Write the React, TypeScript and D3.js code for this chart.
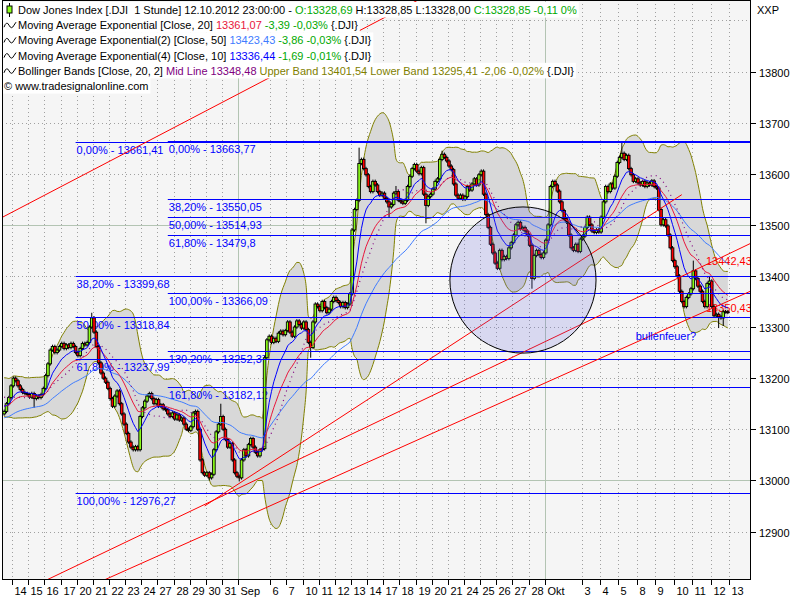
'use client'
import React, { useEffect, useRef } from 'react';
import * as d3 from 'd3';

// trading days shown on the time axis ('' = day without a label)
const dayLabels = ['13', '14', '15', '16', '17', '20', '21', '22', '23', '24', '27', '28', '29', '30', '31',
  'Sep', '', '6', '7', '10', '11', '12', '13', '14', '17', '18', '19', '20', '21', '24', '25', '26', '27', '28',
  'Okt', '', '3', '4', '5', '8', '9', '10', '11', '12'];
const nextDayLabel = '13';

// hourly closes per trading day (first day only partly visible)
const hourlyCloses: number[][] = [
  [13135, 13150, 13162, 13185],
  [13200, 13195, 13185, 13178, 13172, 13170, 13168],
  [13163, 13170, 13160, 13165, 13162, 13168, 13180],
  [13205, 13228, 13255, 13262, 13250, 13255, 13262],
  [13268, 13258, 13265, 13260, 13268, 13262, 13250],
  [13244, 13258, 13268, 13265, 13270, 13300, 13318],
  [13290, 13262, 13230, 13210, 13200, 13192, 13180],
  [13160, 13145, 13165, 13175, 13150, 13130, 13110],
  [13092, 13075, 13065, 13060, 13066, 13060, 13125],
  [13142, 13155, 13165, 13170, 13160, 13150, 13158],
  [13145, 13148, 13140, 13138, 13130, 13125, 13132],
  [13120, 13128, 13118, 13122, 13110, 13100, 13098],
  [13105, 13132, 13135, 13100, 13040, 13015, 13010],
  [13015, 13005, 13012, 13060, 13095, 13110, 13125],
  [13100, 13080, 13065, 13072, 13040, 13015, 13008],
  [13005, 13040, 13060, 13048, 13070, 13082, 13065],
  [13055, 13048, 13060, 13062, 13240, 13275, 13282],
  [13270, 13278, 13272, 13288, 13292, 13285, 13293],
  [13310, 13290, 13282, 13300, 13312, 13305, 13298],
  [13310, 13295, 13270, 13260, 13310, 13345, 13340],
  [13332, 13350, 13338, 13328, 13335, 13350, 13358],
  [13352, 13348, 13340, 13348, 13338, 13345, 13365],
  [13490, 13530, 13548, 13620, 13628, 13610, 13598],
  [13575, 13565, 13585, 13578, 13565, 13558, 13562],
  [13552, 13545, 13535, 13540, 13562, 13565, 13548],
  [13545, 13542, 13548, 13575, 13595, 13610, 13618],
  [13605, 13600, 13612, 13560, 13538, 13555, 13560],
  [13570, 13585, 13590, 13628, 13638, 13632, 13625],
  [13615, 13608, 13580, 13558, 13552, 13558, 13550],
  [13555, 13575, 13568, 13580, 13590, 13578, 13598],
  [13605, 13560, 13520, 13495, 13462, 13445, 13425],
  [13415, 13450, 13432, 13438, 13434, 13455, 13465],
  [13480, 13500, 13505, 13492, 13495, 13488, 13480],
  [13460, 13395, 13440, 13450, 13442, 13436, 13445],
  [13470, 13500, 13575, 13585, 13578, 13566, 13545, 13528],
  [13512, 13505, 13480, 13455, 13450, 13462, 13448, 13472],
  [13478, 13495, 13515, 13500, 13488, 13485, 13490, 13486],
  [13515, 13545, 13575, 13565, 13580, 13572, 13595, 13622],
  [13632, 13640, 13628, 13636, 13610, 13598, 13585, 13590],
  [13582, 13578, 13585, 13575, 13582, 13578, 13586, 13575],
  [13572, 13530, 13500, 13510, 13498, 13480, 13455, 13430],
  [13418, 13400, 13370, 13350, 13340, 13358, 13365, 13375],
  [13410, 13395, 13380, 13370, 13350, 13340, 13385, 13390],
  [13340, 13322, 13325, 13320, 13318, 13330, 13330, 13328.85],
];

// bars before the visible range, only used to warm up the indicators
const priorCloses = [13060, 13075, 13090, 13085, 13100, 13110, 13105, 13120, 13130, 13140,
  13150, 13165, 13175, 13170, 13185, 13195, 13190, 13180, 13175, 13185,
  13170, 13165, 13160, 13150, 13155, 13145, 13150, 13140, 13138, 13130];

// long wicks [bar, price]
const highSpikes: [number, number][] = [[38, 13328], [94, 13150], [154, 13651], [170, 13576],
  [190, 13645], [268, 13661], [299, 13430], [306, 13400]];
const lowSpikes: [number, number][] = [[13, 13142], [89, 13000], [102, 12998], [133, 13240],
  [167, 13515], [183, 13503], [229, 13375], [310, 13298], [312, 13302]];

const priceTicks = [12900, 13000, 13100, 13200, 13300, 13400, 13500, 13600, 13700, 13800];

// fibonacci sets: anchor bar + levels
const fibA = { bar: 31, levels: [['0,00%', 13661.41], ['38,20%', 13399.68], ['50,00%', 13318.84],
  ['61,80%', 13237.99], ['100,00%', 12976.27]] as [string, number][] };
const fibB = { bar: 71, levels: [['0,00%', 13663.77], ['38,20%', 13550.05], ['50,00%', 13514.93],
  ['61,80%', 13479.8], ['100,00%', 13366.09], ['130,20%', 13252.37], ['161,80%', 13182.12]] as [string, number][] };

// trend lines [bar, price] anchors
const trendLines = [
  { a: [0, 13516.6], b: [116, 13790], extend: true, label: '' },
  { a: [87, 12953], b: [314, 13442.43], extend: true, label: '13442,43' },
  { a: [87, 12893], b: [314, 13350.43], extend: true, label: '13350,43' },
  { a: [87, 12950], b: [294, 13559], extend: false, label: '' },
];

const ellipseBox = { bars: [193.4, 256.8], prices: [13249, 13535] };
const note = { bar: 274, price: 13275, text: 'bullenfeuer?' };

const GREEN = '#00a800';
const C_EMA20 = '#e8163c';
const C_EMA50 = '#3f7cff';
const C_EMA10 = '#0000ff';
const OLIVE = '#808000';
const PURPLE = '#800080';

const legendRows: [string, string][][] = [
  [['Dow Jones Index [.DJI  1 Stunde] 12.10.2012 23:00:00 - ', '#000'], ['O:13328,69', GREEN],
    [' H:13328,85 L:13328,00 ', '#000'], ['C:13328,85 -0,11 0%', GREEN]],
  [['Moving Average Exponential [Close, 20] ', '#000'], ['13361,07', C_EMA20], [' -3,39 -0,03%', GREEN], [' {.DJI}', '#000']],
  [['Moving Average Exponential(2) [Close, 50] ', '#000'], ['13423,43', C_EMA50], [' -3,86 -0,03%', GREEN], [' {.DJI}', '#000']],
  [['Moving Average Exponential(4) [Close, 10] ', '#000'], ['13336,44', C_EMA10], [' -1,69 -0,01%', GREEN], [' {.DJI}', '#000']],
  [['Bollinger Bands [Close, 20, 2] ', '#000'], ['Mid Line 13348,48', PURPLE],
    [' Upper Band 13401,54 Lower Band 13295,41 -2,06 -0,02%', OLIVE], [' {.DJI}', '#000']],
  [['\u00a9 www.tradesignalonline.com', '#000']],
];

const FONT = '"Liberation Sans", Arial, sans-serif';

function ema(values: number[], period: number) {
  const k = 2 / (period + 1);
  let e = values[0];
  return values.map(v => (e += k * (v - e)));
}

const App: React.FC = () => {
  const svgRef = useRef<SVGSVGElement>(null);

  useEffect(() => {
    document.body.style.margin = '0';
    const width = 800;
    const height = 600;
    const left = 2, right = 750, top = 0, bottom = 579;

    const svg = d3.select(svgRef.current)
      .attr('width', width)
      .attr('height', height)
      .style('display', 'block')
      .style('font-family', FONT)
      .style('font-size', '11px');
    svg.selectAll('*').remove();

    const closes = hourlyCloses.flat();
    const n = closes.length;
    const dayStarts: number[] = [];
    let cursor = 0;
    hourlyCloses.forEach((d, i) => {
      dayStarts.push(i === 0 ? cursor - (7 - d.length) : cursor);
      cursor += d.length;
    });
    const ticks = [...dayLabels.map((l, i) => ({ label: l, bar: dayStarts[i] })), { label: nextDayLabel, bar: cursor }];

    const x = d3.scaleLinear().domain([-0.5, n + 8.6]).range([3, right]);
    const y = d3.scaleLinear().domain([12900, 13800]).range([531.5, 71.5]);

    const all = [...priorCloses, ...closes];
    const off = priorCloses.length;
    const ema10 = ema(all, 10).slice(off);
    const ema20 = ema(all, 20).slice(off);
    const ema50 = ema(all, 50).slice(off);
    const boll = closes.map((_, i) => {
      const win = all.slice(i + off - 19, i + off + 1);
      const m = d3.mean(win) as number;
      const sd = Math.sqrt(d3.mean(win, v => (v - m) ** 2) as number);
      return { m, up: m + 2 * sd, lo: m - 2 * sd };
    });

    const opens = closes.map((c, i) => (i === 0 ? priorCloses[priorCloses.length - 1] : closes[i - 1]));
    const highs = closes.map((c, i) => Math.max(opens[i], c) + 3.5);
    const lows = closes.map((c, i) => Math.min(opens[i], c) - 3.5);
    highSpikes.forEach(([b, p]) => { highs[b] = Math.max(highs[b], p); });
    lowSpikes.forEach(([b, p]) => { lows[b] = Math.min(lows[b], p); });

    svg.append('defs').append('clipPath').attr('id', 'plotclip')
      .append('rect').attr('x', left).attr('y', top).attr('width', right - left).attr('height', bottom - top);

    const plot = svg.append('g').attr('clip-path', 'url(#plotclip)');
    plot.append('rect').attr('x', left).attr('y', top).attr('width', right - left).attr('height', bottom - top)
      .attr('fill', '#f5f5f5');

    const visTicks = ticks.filter(t => t.label !== '' && x(t.bar - 0.5) >= 3 && x(t.bar - 0.5) <= right);

    // grid
    d3.range(12900, 14000, 100).forEach(p => {
      plot.append('line').attr('x1', left).attr('x2', right).attr('y1', Math.round(y(p)) + 0.5).attr('y2', Math.round(y(p)) + 0.5)
        .attr('stroke', '#a0a0a0').attr('stroke-dasharray', '1,3');
    });
    visTicks.forEach(t => {
      const xx = Math.round(x(t.bar - 0.5)) + 0.5;
      plot.append('line').attr('x1', xx).attr('x2', xx).attr('y1', top).attr('y2', bottom)
        .attr('stroke', '#a0a0a0').attr('stroke-dasharray', '1,3');
    });
    [13000, 13500].forEach(p => {
      plot.append('line').attr('x1', left).attr('x2', right).attr('y1', Math.round(y(p)) + 0.5).attr('y2', Math.round(y(p)) + 0.5)
        .attr('stroke', '#b3c4b3');
    });
    visTicks.filter(t => isNaN(+t.label)).forEach(t => {
      const xx = Math.round(x(t.bar - 0.5)) + 0.5;
      plot.append('line').attr('x1', xx).attr('x2', xx).attr('y1', top).attr('y2', bottom).attr('stroke', '#b3c4b3');
    });

    // bollinger
    const idx = d3.range(n);
    plot.append('path').datum(idx)
      .attr('d', d3.area<number>().x(i => x(i)).y0(i => y(boll[i].lo)).y1(i => y(boll[i].up)).curve(d3.curveMonotoneX))
      .attr('fill', '#d8d8d8');
    ['up', 'lo'].forEach(k => {
      plot.append('path').datum(idx)
        .attr('d', d3.line<number>().x(i => x(i)).y(i => y((boll[i] as any)[k])).curve(d3.curveMonotoneX))
        .attr('fill', 'none').attr('stroke', OLIVE).attr('stroke-width', 1);
    });

    // fib labels (under the candles)
    [fibA, fibB].forEach(set => {
      set.levels.forEach(([pct, v]) => {
        plot.append('text').attr('x', x(set.bar) + 1).attr('y', Math.round(y(v)) + 11.5)
          .attr('fill', '#0000ff').text(`${pct} - ${String(v).replace('.', ',')}`);
      });
    });

    // trend line labels
    trendLines.filter(t => t.label).forEach(t => {
      plot.append('text').attr('x', x(t.b[0]) + 1).attr('y', y(t.b[1]) + 11)
        .attr('text-anchor', 'middle').attr('fill', '#ff0000').text(t.label);
    });

    // candles
    const bw = 2.6;
    const cg = plot.append('g');
    idx.forEach(i => {
      const cx = x(i);
      cg.append('line').attr('x1', cx).attr('x2', cx).attr('y1', y(highs[i])).attr('y2', y(lows[i]))
        .attr('stroke', '#000').attr('stroke-width', 1);
      const yt = y(Math.max(opens[i], closes[i]));
      const yb = y(Math.min(opens[i], closes[i]));
      cg.append('rect').attr('x', cx - bw / 2).attr('y', yt).attr('width', bw).attr('height', Math.max(yb - yt, 1))
        .attr('fill', closes[i] >= opens[i] ? '#8cff1a' : '#ff0000')
        .attr('stroke', '#000').attr('stroke-width', 0.9);
    });

    // averages
    const lineOf = (vals: number[]) => d3.line<number>().x((_, i) => x(i)).y(v => y(v))(vals);
    plot.append('path').attr('d', lineOf(ema50)).attr('fill', 'none').attr('stroke', C_EMA50).attr('stroke-width', 1);
    plot.append('path').attr('d', lineOf(ema20)).attr('fill', 'none').attr('stroke', C_EMA20).attr('stroke-width', 1);
    plot.append('path').attr('d', lineOf(ema10)).attr('fill', 'none').attr('stroke', C_EMA10).attr('stroke-width', 1);
    plot.append('path').attr('d', lineOf(boll.map(b => b.m))).attr('fill', 'none').attr('stroke', PURPLE)
      .attr('stroke-width', 1.2).attr('stroke-dasharray', '1,4');

    // fib lines
    [fibA, fibB].forEach(set => {
      set.levels.forEach(([, v]) => {
        const yy = Math.round(y(v)) + 0.5;
        plot.append('line').attr('x1', x(set.bar)).attr('x2', right).attr('y1', yy).attr('y2', yy)
          .attr('stroke', '#0000ff').attr('stroke-width', 1);
      });
    });

    // trend lines
    trendLines.forEach(t => {
      const slope = (t.b[1] - t.a[1]) / (t.b[0] - t.a[0]);
      const b0 = t.extend ? -20 : t.a[0];
      const b1 = t.extend ? n + 20 : t.b[0];
      plot.append('line')
        .attr('x1', x(b0)).attr('y1', y(t.a[1] + slope * (b0 - t.a[0])))
        .attr('x2', x(b1)).attr('y2', y(t.a[1] + slope * (b1 - t.a[0])))
        .attr('stroke', '#ff0000').attr('stroke-width', 1);
    });

    // circle
    const ex0 = x(ellipseBox.bars[0]), ex1 = x(ellipseBox.bars[1]);
    const ey0 = y(ellipseBox.prices[1]), ey1 = y(ellipseBox.prices[0]);
    plot.append('ellipse').attr('cx', (ex0 + ex1) / 2).attr('cy', (ey0 + ey1) / 2)
      .attr('rx', (ex1 - ex0) / 2).attr('ry', (ey1 - ey0) / 2)
      .attr('fill', 'rgb(100,100,220)').attr('fill-opacity', 0.2).attr('stroke', '#000').attr('stroke-width', 1);

    plot.append('text').attr('x', x(note.bar)).attr('y', y(note.price)).attr('fill', '#0000ff').text(note.text);

    // frame
    svg.append('rect').attr('x', left + 0.5).attr('y', top + 0.5).attr('width', right - left).attr('height', bottom - top)
      .attr('fill', 'none').attr('stroke', '#000');

    // right axis
    priceTicks.forEach(p => {
      const yy = Math.round(y(p)) + 0.5;
      svg.append('line').attr('x1', right).attr('x2', right + 6).attr('y1', yy).attr('y2', yy).attr('stroke', '#000');
      svg.append('text').attr('x', right + 9).attr('y', yy + 4).attr('fill', '#000').text(String(p));
    });
    svg.append('text').attr('x', 757).attr('y', 14).attr('fill', '#000').text('XXP');

    // time axis
    visTicks.forEach(t => {
      const xx = Math.round(x(t.bar - 0.5)) + 0.5;
      svg.append('line').attr('x1', xx).attr('x2', xx).attr('y1', bottom + 1).attr('y2', bottom + 6).attr('stroke', '#000');
      svg.append('text').attr('x', xx + 2).attr('y', bottom + 16).attr('fill', '#000').text(t.label);
    });

    // legend
    const lg = svg.append('g');
    legendRows.forEach((row, r) => {
      const ty = 2 + r * 15.2;
      const tx = r < 5 ? 18 : 4;
      const bg = lg.append('rect').attr('x', left + 1).attr('y', ty).attr('height', 15.6).attr('fill', '#fff');
      const txt = lg.append('text').attr('x', tx).attr('y', ty + 12).style('white-space', 'pre');
      row.forEach(([s, c]) => txt.append('tspan').attr('fill', c).text(s));
      const w = (txt.node() as SVGTextElement).getComputedTextLength();
      bg.attr('width', tx + w + 2 - (left + 1));
      const cy = ty + 8;
      if (r === 0) {
        lg.append('line').attr('x1', 9.5).attr('x2', 9.5).attr('y1', cy - 7).attr('y2', cy + 7).attr('stroke', '#000');
        lg.append('rect').attr('x', 7).attr('y', cy - 4).attr('width', 5).attr('height', 7)
          .attr('fill', '#8cff1a').attr('stroke', '#000');
      } else if (r < 5) {
        lg.append('path')
          .attr('d', `M4,${cy + 2} Q6.5,${cy - 5} 9,${cy} T14,${cy} L16,${cy - 3}`)
          .attr('fill', 'none').attr('stroke', '#000').attr('stroke-width', 1);
      }
    });
  }, []);

  return <svg ref={svgRef}></svg>;
};

export default App;
